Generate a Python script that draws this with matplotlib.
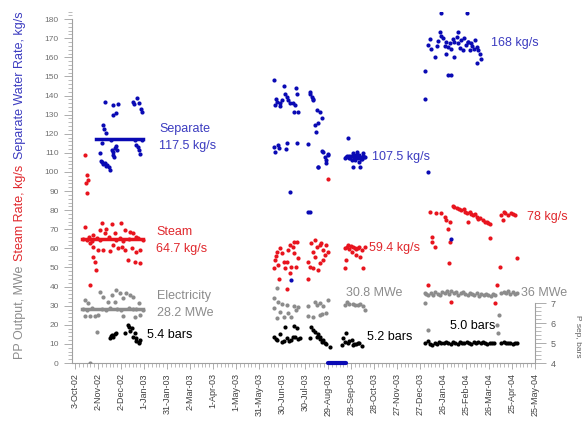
import matplotlib
matplotlib.use("Agg")
import matplotlib.pyplot as plt
from matplotlib.ticker import MultipleLocator

plt.rcParams['font.family'] = ['Liberation Sans', 'DejaVu Sans']

# days since 3-Oct-02
tick_labels = ['3-Oct-02', '2-Nov-02', '2-Dec-02', '1-Jan-03', '31-Jan-03', '2-Mar-03',
               '1-Apr-03', '1-May-03', '31-May-03', '30-Jun-03', '30-Jul-03', '29-Aug-03',
               '28-Sep-03', '28-Oct-03', '27-Nov-03', '27-Dec-03', '26-Jan-04', '25-Feb-04',
               '26-Mar-04', '25-Apr-04', '25-May-04']
tick_days = [30 * i for i in range(len(tick_labels))]

# Separate water rate, kg/s
sep_days = [39, 50, 56, 53, 50, 76, 81, 84, 86, 87, 77,
            36, 38, 40, 35, 33, 35, 39, 42, 46, 48, 50, 52, 55, 50, 80, 83, 85, 47, 87,
            34, 37, 41, 44, 78, 82, 51, 53,
            259, 272, 274, 288, 290, 263, 261, 267, 270, 278, 280, 287, 285, 291, 306, 309,
            311, 315, 319, 322, 317, 313, 314,
            259, 261, 265, 266, 275, 277, 289, 304, 322, 326, 328, 330, 317, 281, 304, 306, 282,
            317, 324, 330, 328, 262, 268, 276, 284, 307, 310,
            355, 358, 363, 368, 372, 376, 365, 371, 363, 372, 356, 361, 378, 352, 360, 366, 374,
            354, 357, 359, 362, 364, 367, 369, 370, 373, 375, 377,
            478, 511, 476, 500, 463, 460, 465, 469, 480, 484, 489, 484, 491, 495, 500, 504, 508,
            513, 517, 522, 524, 528, 530, 524, 495, 506, 515, 487, 490, 457, 457, 461, 491,
            472, 478, 486, 498, 510, 520, 474, 482, 493, 502, 512, 518, 526]
sep_vals = [136.7, 135.0, 135.5, 131.0, 130.0, 136.7, 138.5, 136.0, 133.0, 131.5, 135.5,
            124.5, 122.4, 120.5, 115.0, 110.0, 105.0, 104.5, 103.6, 101.0, 111.5, 110.6, 112.3,
            111.5, 109.0, 114.0, 111.5, 109.4, 116.7, 116.7,
            106.0, 104.0, 103.0, 102.5, 117.0, 113.0, 108.0, 113.5,
            148.0, 145.0, 140.8, 143.7, 140.8, 136.7, 135.0, 135.9, 137.6, 137.6, 135.9, 135.0,
            131.5, 131.5, 141.0, 139.4, 137.6, 132.4, 131.5, 128.0, 125.4, 124.5, 121.0,
            113.2, 110.6, 114.0, 112.3, 111.8, 115.0, 115.0, 114.6, 111.0, 108.0, 106.2, 109.4,
            102.4, 89.6, 78.9, 78.9, 43.4,
            102.7, 110.6, 108.8, 104.5, 138.0, 134.5, 139.0, 136.0, 142.0, 138.0,
            108.3, 107.1, 109.7, 110.6, 108.0, 109.7, 106.2, 105.3, 102.7, 102.7, 117.6, 106.5,
            108.0, 107.5, 108.5, 107.8, 107.0,
            107.8, 108.6, 107.3, 108.2, 106.8, 108.9, 107.5, 109.0, 106.9, 108.4, 107.7,
            183.3, 183.3, 173.4, 173.4, 169.4, 166.4, 164.2, 160.3, 169.9, 168.1, 167.3, 162.0,
            164.2, 168.1, 167.3, 169.0, 169.9, 168.1, 167.3, 169.0, 165.5, 162.0, 159.4, 157.1,
            160.3, 163.8, 163.8, 150.7, 150.7, 153.0, 138.1, 100.1, 64.7,
            166.0, 171.0, 165.5, 170.5, 166.5, 164.5, 168.5, 166.0, 169.5, 165.0, 167.8, 166.2,
            164.0]
# shutdown
shut_days = [330, 333, 336, 339, 342, 345, 348, 351, 354]
shut_vals = [0, 0, 0, 0, 0, 0, 0, 0, 0]

# Steam rate, kg/s
steam_days = [13, 15, 17, 14, 16,
              13, 35, 48, 60, 33, 41, 52, 65, 72, 76, 80, 24, 39,
              20, 24, 30, 37, 46, 56, 61, 65, 74, 80, 85, 24, 26, 27, 69, 78, 85, 20, 50,
              10, 15, 18, 22, 28, 33, 44, 54, 58, 63, 70, 82, 88,
              263, 267, 261, 259, 265, 272, 274, 278, 280, 286, 289, 285, 276, 282, 288, 281,
              266, 277, 304, 306, 310, 304, 313, 315, 319, 324, 330, 328, 324, 319, 317, 313, 308,
              262, 270, 284, 291, 311, 321, 326,
              352, 356, 363, 369, 374, 361, 367, 372, 354, 352, 376, 378, 358, 365, 330,
              355, 360, 366, 371,
              463, 471, 478, 482, 484, 489, 486, 493, 498, 504, 511, 515, 519, 524, 528, 532,
              537, 541, 513, 556, 561, 565, 569, 574, 558, 466, 470, 466, 489, 488, 541, 554,
              576, 461, 491, 548, 551, 501, 507, 522, 535, 495, 509, 517, 526, 539, 559, 571]
steam_vals = [108.8, 98.4, 96.0, 94.0, 89.0,
              71.3, 73.4, 72.6, 73.4, 69.6, 70.0, 67.9, 69.6, 68.7, 67.9, 66.1, 67.0, 67.9,
              62.6, 60.9, 59.1, 59.1, 58.8, 60.0, 60.9, 59.1, 60.0, 58.2, 59.1, 55.6, 53.0, 48.7,
              53.9, 53.0, 52.2, 40.8, 61.7,
              65.0, 64.5, 66.0, 64.0, 65.5, 64.2, 65.8, 64.6, 65.2, 63.8, 64.9, 65.4, 64.3,
              58.2, 60.0, 53.9, 49.5, 51.3, 53.0, 49.5, 59.1, 61.7, 63.5, 63.5, 57.4, 53.0, 50.4,
              50.1, 46.9, 43.8, 38.6, 43.8, 50.4, 49.5, 53.0, 64.4, 60.9, 61.7, 59.1, 58.2, 61.7,
              53.9, 52.2, 48.7, 55.6, 62.6,
              56.0, 57.5, 60.5, 55.0, 58.0, 63.0, 56.5,
              60.0, 61.7, 60.9, 60.0, 59.1, 58.2, 56.5, 55.6, 53.9, 49.5, 49.5, 60.9, 59.5, 60.2,
              96.3,
              60.5, 61.0, 59.8, 60.8,
              79.2, 78.3, 78.3, 76.6, 74.8, 73.9, 70.0, 82.2, 81.0, 80.1, 78.3, 79.2, 77.4, 76.6,
              75.7, 74.8, 73.9, 72.7, 73.9, 77.4, 78.3, 77.4, 78.3, 77.4, 74.8, 66.1, 60.9, 63.5,
              63.5, 52.5, 65.3, 50.4, 54.8, 40.8, 32.1, 31.2, 40.8, 80.8, 80.5, 78.0, 74.0,
              81.5, 79.0, 77.8, 75.5, 73.2, 78.8, 77.9]

# Power plant output, MWe
power_days = [13, 17, 33, 37, 48, 54, 59, 63, 67, 72, 76, 83, 52, 43,
              13, 20, 26, 30, 63, 78, 28, 85, 20,
              10, 15, 22, 35, 40, 45, 55, 60, 70, 75, 80, 88,
              263, 259, 265, 276, 285, 291, 259, 267, 278, 272, 282, 264, 313, 319, 330, 324, 304,
              311, 319, 328, 304, 270, 288, 316, 322,
              352, 358, 365, 372, 376, 378, 355, 362, 369,
              458, 461, 464, 467, 470, 473, 476, 479, 482, 485, 488, 491, 494, 497, 500, 503, 506,
              509, 512, 515, 518, 521, 524, 527, 530, 533, 536, 539, 542, 545, 548, 556, 559, 562,
              565, 568, 571, 574, 577,
              456, 456, 553, 461, 550, 552]
power_vals = [33.0, 31.6, 37.3, 34.7, 35.6, 38.2, 36.5, 33.9, 36.5, 35.6, 34.4, 31.2, 32.0, 32.0,
              24.6, 24.6, 24.6, 25.1, 24.6, 24.2, 16.4, 25.1, 0.0,
              28.5, 28.0, 29.0, 28.3, 27.8, 28.6, 28.2, 27.9, 28.8, 28.1, 28.4, 27.7,
              39.1, 33.9, 32.0, 30.4, 29.8, 29.5, 28.6, 26.8, 26.0, 24.2, 24.2, 23.4, 32.0, 31.2,
              33.0, 29.8, 24.6, 24.2, 25.1, 26.0, 29.8, 31.0, 27.5, 30.5, 25.5,
              30.4, 30.9, 30.4, 30.9, 29.8, 27.7, 32.0, 31.0, 30.6,
              36.3, 35.8, 36.5, 35.6, 37.0, 36.2, 35.5, 37.2, 36.8, 37.5, 36.0, 37.8, 36.5, 37.0,
              35.8, 36.6, 37.3, 36.0, 35.5, 36.8, 36.2, 35.8, 36.5, 35.3, 36.0, 35.5, 36.3, 35.7,
              35.2, 36.0, 35.5, 36.5, 37.2, 36.8, 37.5, 36.3, 37.0, 36.0, 36.5,
              36.5, 31.5, 25.1, 17.3, 19.9, 15.5]

# Separator pressure, bars
psep_days = [48, 50, 46, 54, 69, 74, 78, 80, 85, 83, 76, 65, 71, 52, 47, 72, 79, 84,
             259, 264, 270, 276, 282, 287, 291, 274, 285, 289, 267, 308, 313, 319, 324, 328, 332,
             306, 315, 262, 279, 294, 311, 317, 322, 272, 284, 320, 326,
             350, 356, 363, 369, 374, 354, 348, 361, 352, 366, 371, 358, 364,
             457, 460, 463, 466, 469, 472, 475, 478, 481, 484, 487, 490, 493, 496, 499, 502, 505,
             508, 511, 514, 517, 520, 523, 526, 529, 532, 535, 538, 541, 544, 547, 556, 559, 562,
             565, 568, 571, 574, 577]
psep_vals = [5.40, 5.32, 5.23, 5.52, 5.90, 5.73, 5.48, 5.23, 5.15, 4.98, 5.32, 5.48, 5.80, 5.45,
             5.35, 5.62, 5.10, 5.05,
             5.32, 5.15, 5.07, 5.23, 5.15, 5.32, 5.18, 5.82, 5.85, 5.73, 5.45, 5.82, 5.57, 5.32,
             5.15, 4.95, 4.82, 5.23, 5.32, 5.20, 5.10, 5.25, 5.65, 5.45, 5.05, 5.12, 5.28, 5.22,
             5.02,
             5.23, 4.98, 4.90, 4.98, 4.87, 5.48, 4.90, 5.15, 5.05, 4.95, 5.00, 5.08, 4.93,
             5.00, 5.08, 4.95, 4.90, 5.02, 4.97, 5.05, 5.00, 4.98, 5.06, 5.00, 4.95, 5.03, 5.00,
             4.97, 5.05, 5.02, 4.98, 5.07, 5.00, 4.96, 5.04, 5.00, 5.05, 4.98, 5.03, 5.00, 4.96,
             5.02, 4.98, 5.00, 5.00, 5.03, 4.98, 5.02, 5.00, 4.97, 5.02, 5.00]

# averages for first period
avg_sep = 117.5
avg_steam = 64.7
avg_power = 28.2
avg_start, avg_end = 9, 89

blue = '#0a0ab4'
red = '#e8141e'
gray = '#8c8c8c'
blue_txt = '#3c3cc0'
red_txt = '#e0282d'

fig = plt.figure(figsize=(5.82, 4.23), dpi=100)
ax = fig.add_axes([0.1237, 0.1418, 0.7955, 0.831])

ms = 9
ax.scatter(power_days, power_vals, s=ms, color=gray, zorder=3, linewidths=0)
ax.scatter(steam_days, steam_vals, s=ms, color=red, zorder=3, linewidths=0)
ax.scatter(sep_days, sep_vals, s=ms, color=blue, zorder=3, linewidths=0)
ax.plot(shut_days, shut_vals, color=blue, lw=3, solid_capstyle='round', zorder=4, clip_on=False)

ax.plot([27, avg_end], [avg_sep, avg_sep], color=blue, lw=2.5, zorder=4)
ax.plot([avg_start, avg_end], [avg_steam, avg_steam], color=red, lw=2.5, zorder=4)
ax.plot([avg_start, avg_end], [avg_power, avg_power], color=gray, lw=2.5, zorder=4)

ax.set_xlim(-4, 600)
ax.set_ylim(0, 184)
ax.set_yticks(range(0, 181, 10))
ax.yaxis.set_minor_locator(MultipleLocator(2))
ax.set_xticks(tick_days)
ax.set_xticklabels(tick_labels, rotation=90)
ax.xaxis.set_minor_locator(MultipleLocator(5))
ax.spines['top'].set_visible(False)
ax.spines['right'].set_visible(False)
ax.spines['left'].set_bounds(0, 180)
for sp in ['left', 'bottom']:
    ax.spines[sp].set_color('#a0a0a0')
ax.tick_params(axis='y', labelsize=6, colors='#a0a0a0', labelcolor='#707070', length=6, width=0.6)
ax.tick_params(axis='y', which='minor', colors='#a0a0a0', length=3, width=0.5)
ax.tick_params(axis='x', labelsize=6.5, colors='#a0a0a0', labelcolor='#404040', length=4, width=0.6)
ax.tick_params(axis='x', which='minor', colors='#a0a0a0', length=3, width=0.5)

ax2 = ax.twinx()
ax2.scatter(psep_days, psep_vals, s=ms, color='black', zorder=3, linewidths=0)
ax2.set_ylim(4, 21.58)
ax2.set_yticks([4, 5, 6, 7])
ax2.set_yticks([v / 10 for v in range(40, 71, 2)], minor=True)
for sp in ['top', 'left', 'bottom']:
    ax2.spines[sp].set_visible(False)
ax2.spines['right'].set_bounds(4, 7)
ax2.spines['right'].set_color('#a0a0a0')
ax2.tick_params(axis='y', labelsize=6.5, colors='#a0a0a0', labelcolor='#606060', length=8, width=0.6)
ax2.tick_params(axis='y', which='minor', colors='#a0a0a0', length=4, width=0.5)

# annotations
fs = 9
ax.text(109.5, 122.3, 'Separate', color=blue_txt, fontsize=fs, va='center')
ax.text(109.5, 113.6, '117.5 kg/s', color=blue_txt, fontsize=fs, va='center')
ax.text(105.6, 68.7, 'Steam', color=red_txt, fontsize=fs, va='center')
ax.text(105.6, 59.5, '64.7 kg/s', color=red_txt, fontsize=fs, va='center')
ax.text(107, 35.1, 'Electricity', color=gray, fontsize=fs, va='center')
ax.text(107, 26.0, '28.2 MWe', color=gray, fontsize=fs, va='center')
ax.text(94.3, 14.7, '5.4 bars', color='black', fontsize=fs, va='center')
ax.text(387, 107.6, '107.5 kg/s', color=blue_txt, fontsize=fs, va='center')
ax.text(543, 167.6, '168 kg/s', color=blue_txt, fontsize=fs, va='center')
ax.text(384, 60.0, '59.4 kg/s', color=red_txt, fontsize=fs, va='center')
ax.text(589, 76.6, '78 kg/s', color=red_txt, fontsize=fs, va='center')
ax.text(353, 36.8, '30.8 MWe', color=gray, fontsize=fs, va='center')
ax.text(582, 36.8, '36 MWe', color=gray, fontsize=fs, va='center')
ax.text(381, 13.8, '5.2 bars', color='black', fontsize=fs, va='center')
ax.text(489, 19.4, '5.0 bars', color='black', fontsize=fs, va='center')

fig.text(0.034, 0.799, 'Separate Water Rate, kg/s', color=blue_txt, fontsize=fs,
         rotation=90, ha='center', va='center')
fig.text(0.034, 0.496, 'Steam Rate, kg/s', color=red_txt, fontsize=fs,
         rotation=90, ha='center', va='center')
fig.text(0.034, 0.262, 'PP Output, MWe', color=gray, fontsize=fs,
         rotation=90, ha='center', va='center')
fig.text(0.993, 0.205, 'P sep, bars', color='#606060', fontsize=6,
         rotation=270, ha='center', va='center')

fig.savefig('out.png', dpi=100)
